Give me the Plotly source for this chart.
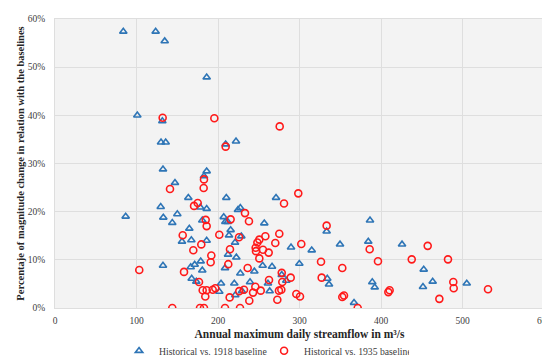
import plotly.graph_objects as go

# Historical vs. 1918 baseline
x_1918 = [83.8, 123.5, 134.6, 186.1, 101.0, 131.7, 130.1, 135.8, 132.5, 186.1,
          182.8, 147.2, 222.1, 209.4, 163.6, 129.7, 178.3, 186.1, 86.7, 132.9,
          150.1, 180.7, 143.9, 164.8, 155.8, 167.3, 186.1, 132.5, 178.8, 166.5,
          171.4, 180.7, 167.7, 173.4, 271.2, 210.2, 227.4, 224.5, 207.0, 209.0,
          211.9, 256.8, 215.5, 213.5, 228.6, 220.9, 289.6, 315.0, 333.3, 386.5,
          349.7, 384.4, 212.3, 222.5, 208.6, 254.8, 266.3, 244.6, 227.4, 278.2,
          299.8, 283.8, 334.1, 336.2, 389.3, 392.3, 261.3, 203.7, 201.6, 220.0,
          239.3, 229.4, 221.2, 263.4, 366.9, 425.8, 452.4, 463.4, 451.5, 505.2]
y_1918 = [57.4, 57.4, 55.4, 47.9, 40.0, 38.8, 34.4, 34.4, 28.8, 28.4,
          27.4, 26.0, 34.6, 34.0, 22.9, 21.0, 20.9, 20.6, 19.0, 18.8,
          19.5, 18.2, 17.7, 16.5, 13.8, 14.1, 14.0, 8.8, 9.7, 8.5,
          9.0, 7.8, 6.1, 5.5, 22.9, 22.9, 20.8, 20.4, 18.9, 17.9,
          17.9, 17.6, 16.2, 15.1, 14.9, 13.6, 12.6, 12.0, 15.9, 18.2,
          13.2, 13.8, 11.1, 10.5, 8.3, 8.8, 8.6, 7.6, 7.2, 6.9,
          9.2, 5.7, 6.1, 4.9, 5.4, 4.3, 5.1, 5.1, 3.4, 5.1,
          5.4, 3.5, 2.7, 3.5, 1.1, 13.2, 8.0, 5.5, 4.4, 5.1]

# Historical vs. 1935 baseline
x_1935 = [132.1, 182.8, 141.1, 182.4, 195.5, 275.7, 209.4, 175.1, 170.6, 184.9,
          186.1, 156.7, 179.5, 169.7, 103.4, 158.3, 176.7, 181.2, 186.1, 184.4,
          143.9, 177.9, 182.8, 298.5, 281.0, 233.1, 215.5, 238.0, 201.6, 225.8,
          275.2, 258.1, 250.7, 248.3, 270.3, 302.2, 333.3, 386.1, 214.7, 246.2,
          246.6, 255.2, 262.2, 191.8, 250.7, 191.0, 212.6, 236.4, 278.2, 326.4,
          352.5, 289.2, 278.9, 327.2, 262.6, 193.5, 196.7, 245.8, 231.9, 226.1,
          214.3, 243.0, 252.4, 274.8, 277.7, 238.4, 272.8, 296.1, 300.6, 352.5,
          354.6, 371.4, 208.6, 227.0, 457.3, 437.7, 482.2, 396.3, 488.7, 489.2,
          531.3, 471.6, 410.6, 409.0]
y_1935 = [39.5, 26.7, 24.7, 24.9, 39.4, 37.7, 33.5, 21.8, 21.2, 18.3,
          17.0, 15.1, 13.2, 12.0, 7.9, 7.5, 5.4, 3.7, 3.7, 2.4,
          0.0, 0.0, 0.0, 23.8, 21.7, 19.7, 18.4, 18.0, 15.2, 14.7,
          15.4, 14.9, 14.2, 13.6, 13.5, 13.3, 17.1, 12.2, 12.2, 12.5,
          11.8, 12.1, 11.5, 10.9, 10.3, 9.5, 9.1, 8.3, 7.3, 9.6,
          8.3, 6.3, 5.4, 6.3, 5.8, 3.8, 4.1, 4.4, 3.8, 3.5,
          2.2, 3.2, 3.6, 3.6, 3.8, 1.5, 1.7, 2.9, 2.4, 2.3,
          2.6, 0.0, 0.0, 0.0, 12.9, 10.1, 10.1, 9.7, 5.4, 4.1,
          3.9, 1.9, 3.7, 3.3]

x_ticks = [0, 100, 200, 300, 400, 500, 600]
y_ticks = [0, 10, 20, 30, 40, 50, 60]
y_tick_labels = [f"{v}%" for v in y_ticks]

FONT = "Liberation Serif, Times New Roman, serif"

fig = go.Figure()
fig.add_trace(go.Scatter(
    x=x_1918, y=y_1918, mode="markers", name="Historical vs. 1918 baseline",
    marker=dict(symbol="triangle-up-open", size=6.5, color="#2E75B6",
                line=dict(width=1.6, color="#2E75B6")),
))
fig.add_trace(go.Scatter(
    x=x_1935, y=y_1935, mode="markers", name="Historical vs. 1935 baseline",
    marker=dict(symbol="circle-open", size=7, color="#FF1A1A",
                line=dict(width=1.6, color="#FF1A1A")),
))

fig.update_layout(
    width=550, height=362,
    margin=dict(l=47, r=14, t=11, b=62, autoexpand=False),
    paper_bgcolor="white",
    plot_bgcolor="#f3f3f3",
    font=dict(family=FONT, size=9, color="#404040"),
    showlegend=True,
    legend=dict(orientation="h", x=0.131, xanchor="left", y=-0.148, yanchor="middle",
                font=dict(family=FONT, size=9.7, color="#404040"),
                itemwidth=30, tracegroupgap=0,
                entrywidth=100, entrywidthmode="pixels"),
)
fig.update_xaxes(
    range=[0, 600], tickvals=x_ticks, ticktext=[str(v) for v in x_ticks],
    showgrid=True, gridcolor="#dedede", gridwidth=1, zeroline=False,
    showline=True, linecolor="#dedede", mirror=True, ticks="",
    automargin=False, ticklabelstandoff=4,
    tickfont=dict(family=FONT, size=9.5, color="#404040"),
    title=dict(text="<b>Annual maximum daily streamflow in m³/s</b>",
               font=dict(family=FONT, size=11.5, color="#262626"), standoff=4),
)
fig.update_yaxes(
    range=[0, 60], tickvals=y_ticks, ticktext=y_tick_labels,
    showgrid=True, gridcolor="#dedede", gridwidth=1, zeroline=False,
    showline=True, linecolor="#dedede", mirror=True, ticks="",
    automargin=False, ticklabelstandoff=7,
    tickfont=dict(family=FONT, size=9.5, color="#404040"),
    title=dict(text="<b>Percentaje of magnitude change in relation with the baselines</b>",
               font=dict(family=FONT, size=10.5, color="#262626"), standoff=1),
)

fig.write_html("out.html")
